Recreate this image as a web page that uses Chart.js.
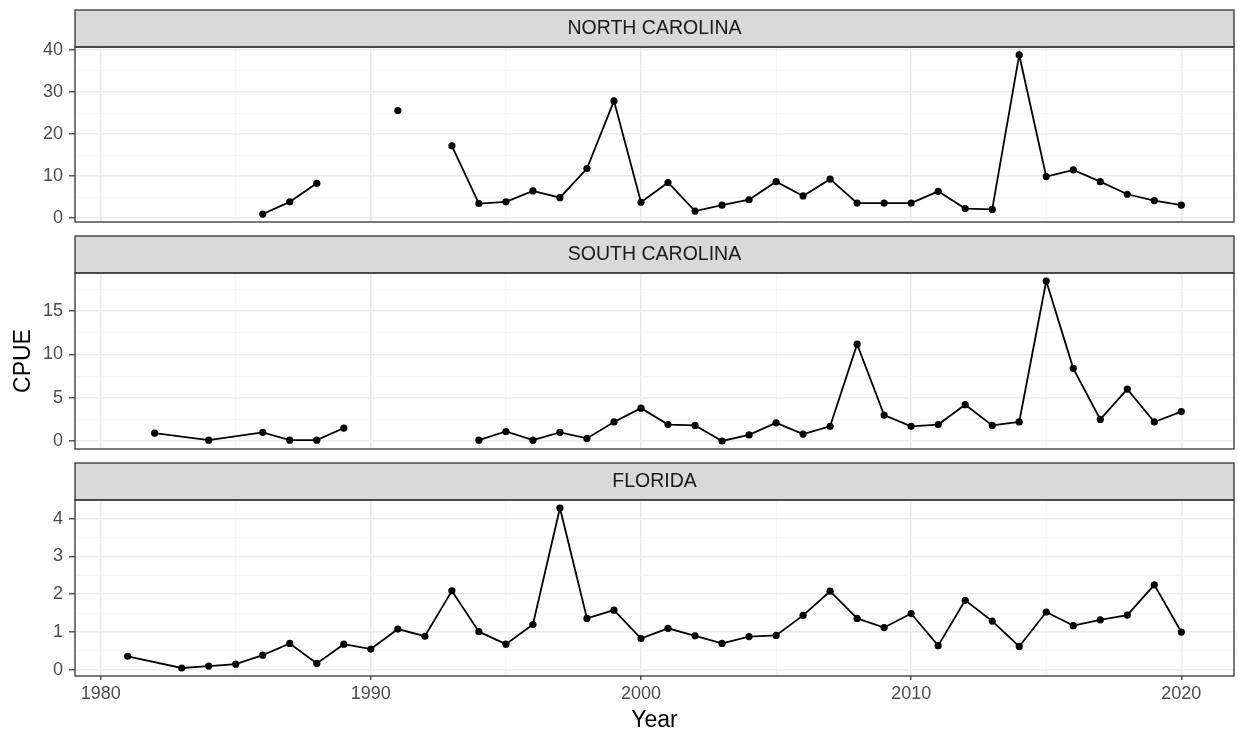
<!DOCTYPE html>
<html>
<head>
<meta charset="utf-8">
<script src="https://cdn.jsdelivr.net/npm/chart.js@4"></script>
<style>
  body { margin: 0; background: #fff; }
  #wrap { position: relative; width: 1238px; height: 734px; }
  #wrap canvas { position: absolute; left: 0; top: 0; }
</style>
</head>
<body>
<div id="wrap">
  <canvas id="nc" width="1238" height="734"></canvas>
  <canvas id="sc" width="1238" height="734"></canvas>
  <canvas id="fl" width="1238" height="734"></canvas>
</div>
<script>
// CPUE by year, null = break in the line
const ncYears = [1986, 1987, 1988, 1989, 1991, 1992, 1993, 1994, 1995, 1996, 1997, 1998, 1999, 2000,
  2001, 2002, 2003, 2004, 2005, 2006, 2007, 2008, 2009, 2010, 2011, 2012, 2013, 2014, 2015, 2016,
  2017, 2018, 2019, 2020];
const ncCpue = [1.0, 3.9, 8.3, null, 25.6, null, 17.2, 3.5, 3.9, 6.5, 4.9, 11.8, 27.9, 3.8,
  8.5, 1.7, 3.1, 4.4, 8.7, 5.3, 9.3, 3.6, 3.6, 3.6, 6.4, 2.3, 2.1, 38.8, 9.9, 11.5,
  8.7, 5.7, 4.2, 3.1];

const scYears = [1982, 1984, 1986, 1987, 1988, 1989, 1990, 1994, 1995, 1996, 1997, 1998, 1999, 2000,
  2001, 2002, 2003, 2004, 2005, 2006, 2007, 2008, 2009, 2010, 2011, 2012, 2013, 2014, 2015, 2016,
  2017, 2018, 2019, 2020];
const scCpue = [0.9, 0.1, 1.0, 0.1, 0.1, 1.5, null, 0.1, 1.1, 0.1, 1.0, 0.3, 2.2, 3.8,
  1.9, 1.8, 0.0, 0.7, 2.1, 0.8, 1.7, 11.2, 3.0, 1.7, 1.9, 4.2, 1.8, 2.2, 18.5, 8.4,
  2.5, 6.0, 2.2, 3.4];

const flYears = [1981, 1983, 1984, 1985, 1986, 1987, 1988, 1989, 1990, 1991, 1992, 1993, 1994, 1995,
  1996, 1997, 1998, 1999, 2000, 2001, 2002, 2003, 2004, 2005, 2006, 2007, 2008, 2009, 2010, 2011,
  2012, 2013, 2014, 2015, 2016, 2017, 2018, 2019, 2020];
const flCpue = [0.36, 0.05, 0.10, 0.15, 0.39, 0.70, 0.17, 0.68, 0.55, 1.08, 0.89, 2.09, 1.01, 0.68,
  1.20, 4.28, 1.36, 1.58, 0.83, 1.10, 0.90, 0.70, 0.88, 0.91, 1.44, 2.08, 1.36, 1.12, 1.49, 0.64,
  1.84, 1.29, 0.62, 1.53, 1.17, 1.32, 1.45, 2.25, 1.00];

const xTicks = [1980, 1990, 2000, 2010, 2020];
const ncTicks = [0, 10, 20, 30, 40];
const scTicks = [0, 5, 10, 15];
const flTicks = [0, 1, 2, 3, 4];

Chart.defaults.font.family = '"Liberation Sans", Arial, sans-serif';

const allYears = [...ncYears, ...scYears, ...flYears];

// ggplot style 5% range expansion
function expand(vals) {
  const v = vals.filter(x => x !== null);
  const lo = Math.min(...v), hi = Math.max(...v);
  const pad = (hi - lo) * 0.05;
  return [lo - pad, hi + pad];
}

// majors + minor breaks halfway between them
function withMinor(major, lo, hi) {
  const step = major[1] - major[0];
  const out = [...major];
  out.push(major[0] - step / 2);
  major.forEach(v => out.push(v + step / 2));
  return out.filter(v => v >= lo && v <= hi).sort((a, b) => a - b);
}

const panelFrame = {
  id: 'panelFrame',
  afterDraw(chart, args, opts) {
    const { ctx, chartArea: a } = chart;
    ctx.save();
    ctx.fillStyle = '#d9d9d9';
    ctx.fillRect(a.left, a.top - 37, a.right - a.left, 37);
    ctx.strokeStyle = '#333333';
    ctx.lineWidth = 1.3;
    ctx.strokeRect(a.left, a.top - 37, a.right - a.left, 37);
    ctx.strokeRect(a.left, a.top, a.right - a.left, a.bottom - a.top);
    ctx.fillStyle = '#1a1a1a';
    ctx.font = '19.5px "Liberation Sans", Arial, sans-serif';
    ctx.textAlign = 'center';
    ctx.textBaseline = 'middle';
    ctx.fillText(opts.label, (a.left + a.right) / 2, a.top - 18);
    ctx.restore();
  }
};

function gridOpts(major, tickLen) {
  const isMajor = c => c.tick && major.includes(c.tick.value);
  return {
    color: c => isMajor(c) ? '#ebebeb' : '#f5f5f5',
    lineWidth: c => isMajor(c) ? 1.6 : 0.8,
    tickColor: c => isMajor(c) ? '#333333' : 'rgba(0,0,0,0)',
    tickWidth: 1.2,
    tickLength: tickLen
  };
}

function makePanel(id, label, years, values, yMajor, top, bottom, opts) {
  const [ymin, ymax] = expand(values);
  const [xmin, xmax] = expand(allYears);
  const showX = opts.showX;
  const xHeight = showX ? 58 : 0;
  const data = years.map((y, i) => ({ x: y, y: values[i] }));

  new Chart(document.getElementById(id), {
    type: 'line',
    data: {
      datasets: [{
        data: data,
        borderColor: '#000',
        borderWidth: 1.8,
        pointRadius: 3.6,
        pointBackgroundColor: '#000',
        pointBorderWidth: 0,
        spanGaps: false,
        tension: 0
      }]
    },
    options: {
      responsive: false,
      animation: false,
      events: [],
      layout: { padding: { top: top, bottom: 734 - bottom - xHeight, left: 0, right: 3 } },
      plugins: {
        legend: { display: false },
        tooltip: { enabled: false },
        panelFrame: { label: label }
      },
      scales: {
        x: {
          type: 'linear',
          min: xmin,
          max: xmax,
          afterBuildTicks: s => { s.ticks = withMinor(xTicks, xmin, xmax).map(v => ({ value: v })); },
          afterFit: s => { s.height = xHeight; },
          border: { display: false },
          grid: Object.assign(gridOpts(xTicks, 4), { drawTicks: showX }),
          ticks: {
            display: showX,
            autoSkip: false,
            maxRotation: 0,
            padding: 3,
            color: '#4d4d4d',
            font: { size: 18 },
            callback: v => xTicks.includes(v) ? String(v) : ''
          },
          title: {
            display: showX,
            text: 'Year',
            color: '#000',
            font: { size: 23 },
            padding: { top: 0, bottom: 0 }
          }
        },
        y: {
          min: ymin,
          max: ymax,
          afterBuildTicks: s => { s.ticks = withMinor(yMajor, ymin, ymax).map(v => ({ value: v })); },
          afterFit: s => { s.width = 75; },
          border: { display: false },
          grid: gridOpts(yMajor, 6),
          ticks: {
            autoSkip: false,
            padding: 6,
            color: '#4d4d4d',
            font: { size: 18 },
            callback: v => yMajor.includes(v) ? String(v) : ''
          },
          title: {
            display: opts.yTitle,
            text: 'CPUE',
            color: '#000',
            font: { size: 23 },
            padding: { top: 10, bottom: 0 }
          }
        }
      }
    },
    plugins: [panelFrame]
  });
}

makePanel('nc', 'NORTH CAROLINA', ncYears, ncCpue, ncTicks, 47, 222, { showX: false, yTitle: false });
makePanel('sc', 'SOUTH CAROLINA', scYears, scCpue, scTicks, 273, 449, { showX: false, yTitle: true });
makePanel('fl', 'FLORIDA', flYears, flCpue, flTicks, 500, 676, { showX: true, yTitle: false });
</script>
</body>
</html>
